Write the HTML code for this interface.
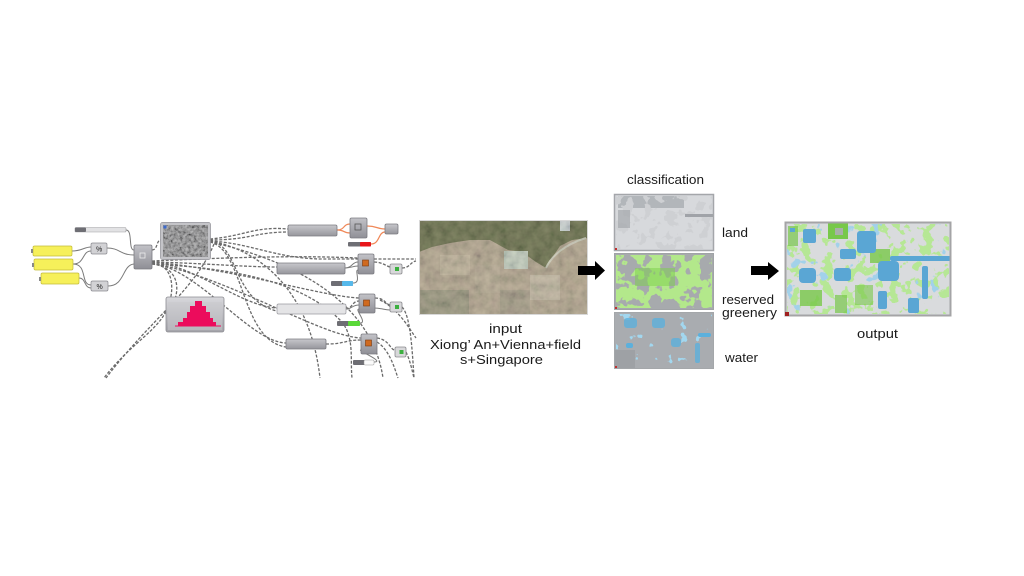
<!DOCTYPE html>
<html><head><meta charset="utf-8"><style>
html,body{margin:0;padding:0;background:#fff;}
svg{display:block}
text{font-family:"Liberation Sans","Noto Sans CJK SC",sans-serif;fill:#1a1a1a;}
.w{fill:none;stroke:#6a6a6a;stroke-width:1.3;stroke-dasharray:3 1.6}
.s{fill:none;stroke:#7a7a7a;stroke-width:1}
.o{fill:none;stroke:#f08858;stroke-width:1.2}
.nd{fill:url(#nodeG);stroke:#7c7c82;stroke-width:0.8}
.bar{fill:url(#barG);stroke:#7c7c82;stroke-width:0.8}
.sm{fill:#d8d8da;stroke:#8a8a8e;stroke-width:0.8}
</style></head><body>
<svg width="1024" height="576" viewBox="0 0 1024 576" xmlns="http://www.w3.org/2000/svg">
<defs>
 <linearGradient id="nodeG" x1="0" y1="0" x2="0" y2="1"><stop offset="0" stop-color="#c2c2c7"/><stop offset="1" stop-color="#8f8f96"/></linearGradient>
 <linearGradient id="barG" x1="0" y1="0" x2="0" y2="1"><stop offset="0" stop-color="#c8c8cc"/><stop offset="1" stop-color="#96969c"/></linearGradient>
 <linearGradient id="histG" x1="0" y1="0" x2="0" y2="1"><stop offset="0" stop-color="#d8d8dc"/><stop offset="1" stop-color="#a4a4aa"/></linearGradient>
 <filter id="tex" x="0" y="0" width="1" height="1"><feTurbulence type="fractalNoise" baseFrequency="0.35" numOctaves="3" seed="7"/><feColorMatrix type="matrix" values="1.6 0 0 0 -0.3  1.6 0 0 0 -0.3  1.6 0 0 0 -0.3  0 0 0 0 1"/></filter>
 <filter id="tex2" x="0" y="0" width="1" height="1"><feTurbulence type="fractalNoise" baseFrequency="0.12" numOctaves="3" seed="11"/><feColorMatrix type="matrix" values="1.2 0.3 0 0 -0.2  1.0 0.5 0 0 -0.2  0.8 0.2 0 0 -0.1  0 0 0 0 1"/></filter>
 <filter id="bGreen" x="0" y="0" width="1" height="1"><feTurbulence type="fractalNoise" baseFrequency="0.08" numOctaves="3" seed="3"/><feColorMatrix type="matrix" values="0 0 0 0 0.45  0 0 0 0 0.81  0 0 0 0 0.26  30 0 0 0 -14.1"/></filter>
 <filter id="bGray" x="0" y="0" width="1" height="1"><feTurbulence type="fractalNoise" baseFrequency="0.09" numOctaves="3" seed="9"/><feColorMatrix type="matrix" values="0 0 0 0 0.62  0 0 0 0 0.63  0 0 0 0 0.65  30 0 0 0 -16.2"/></filter>
 <filter id="bOutG" x="0" y="0" width="1" height="1"><feTurbulence type="fractalNoise" baseFrequency="0.09" numOctaves="3" seed="21"/><feColorMatrix type="matrix" values="0 0 0 0 0.47  0 0 0 0 0.80  0 0 0 0 0.30  30 0 0 0 -16.8"/></filter>
 <filter id="bOutB" x="0" y="0" width="1" height="1"><feTurbulence type="fractalNoise" baseFrequency="0.07" numOctaves="3" seed="33"/><feColorMatrix type="matrix" values="0 0 0 0 0.36  0 0 0 0 0.64  0 0 0 0 0.82  30 0 0 0 -21"/></filter>
 <filter id="bBlue" x="0" y="0" width="1" height="1"><feTurbulence type="fractalNoise" baseFrequency="0.09" numOctaves="3" seed="41"/><feColorMatrix type="matrix" values="0 0 0 0 0.36  0 0 0 0 0.68  0 0 0 0 0.86  30 0 0 0 -21.5"/></filter>
</defs>
<rect width="1024" height="576" fill="#fff"/>

<!-- ========== GRASSHOPPER GRAPH ========== -->
<path class="w" d="M210,239 C245,236 255,226 288,229"/>
<path class="w" d="M210,240 C250,240 255,232 288,232"/>
<path class="w" d="M210,241 C250,243 275,258 320,259 L416,259"/>
<path class="w" d="M152,261 C220,258 290,255 358,258"/>
<path class="w" d="M152,262 C200,263 245,267 277,267"/>
<path class="w" d="M152,262 C195,265 240,306 277,308"/>
<path class="w" d="M152,263 C200,270 250,342 286,343"/>
<path class="w" d="M152,262 C240,270 320,296 359,298"/>
<path class="w" d="M152,263 C230,278 320,336 361,338"/>
<path class="w" d="M210,241 C240,245 232,300 277,311"/>
<path class="w" d="M210,242 C245,250 240,340 286,347"/>
<path class="w" d="M210,241 C260,250 310,290 320,378"/>
<path class="w" d="M210,242 C270,255 370,290 383,378"/>
<path class="w" d="M152,264 C230,268 300,280 340,320 C355,335 350,360 352,378"/>
<path class="w" d="M152,263 C178,265 175,300 162,318 C150,335 125,350 104,378"/>
<path class="w" d="M214,244 C195,290 150,320 106,378"/>
<path class="w" d="M152,264 C185,268 180,300 166,314"/>
<path class="w" d="M152,250 C158,250 156,240 161,240"/>
<path class="w" d="M402,268 C410,268 410,262 416,261"/>
<path class="w" d="M375,298 C385,298 385,304 390,305"/>
<path class="w" d="M374,262 C382,262 386,266 390,267"/>
<path class="w" d="M377,338 C390,340 390,350 395,350"/>
<path class="w" d="M380,300 C400,310 410,330 416,338"/>
<path class="w" d="M402,307 C410,315 412,345 414,378"/>
<path class="w" d="M406,352 C410,360 412,370 414,378"/>
<path class="w" d="M377,342 C390,350 395,370 398,378"/>
<path class="w" d="M346,309 C352,309 352,301 359,301"/>
<path class="w" d="M326,344 C345,344 345,340 361,340"/>

<path class="s" d="M126,230 C133,230 128,250 134,250"/>
<path class="s" d="M107,248 C120,248 120,255 134,255"/>
<path class="s" d="M108,286 C125,286 122,265 134,264"/>
<path class="s" d="M72,251 C82,251 84,247 91,247"/>
<path class="s" d="M73,264 C85,264 82,251 91,251"/>
<path class="s" d="M73,264 C88,264 80,285 91,285"/>
<path class="s" d="M79,278 C86,278 84,288 91,288"/>
<path class="s" d="M345,268 C352,268 352,262 358,262"/>
<path class="s" d="M345,268 C352,268 352,266 358,266"/>
<path class="s" d="M353,283 C362,283 354,270 358,270"/>
<path class="s" d="M346,309 C352,309 352,305 359,305"/>
<path class="s" d="M360,323 C368,323 354,309 359,309"/>
<path class="s" d="M374,362 C386,362 356,350 361,350"/>
<path class="s" d="M374,308 C382,308 384,310 390,310"/>
<path class="o" d="M337,230 C345,230 343,224 350,224"/>
<path class="o" d="M337,230 C345,230 343,233 350,233"/>
<path class="o" d="M367,226 C377,226 377,229 385,229"/>
<path class="o" d="M371,244 C380,244 378,232 385,232"/>

<rect x="75" y="227.5" width="51" height="4.5" rx="1" fill="#e2e2e4" stroke="#a0a0a4" stroke-width="0.6"/>
<rect x="75" y="227.5" width="11" height="4.5" rx="1" fill="#6e6e74"/>
<rect x="33" y="246" width="39" height="10" rx="1.5" fill="#f6f05a" stroke="#c4bc3a" stroke-width="0.7"/>
<rect x="34" y="259" width="39" height="11" rx="1.5" fill="#f6f05a" stroke="#c4bc3a" stroke-width="0.7"/>
<rect x="41" y="273" width="38" height="11" rx="1.5" fill="#f6f05a" stroke="#c4bc3a" stroke-width="0.7"/>
<rect x="31" y="249" width="2" height="4" fill="#888"/>
<rect x="32" y="263" width="2" height="4" fill="#888"/>
<rect x="39" y="277" width="2" height="4" fill="#888"/>
<rect x="91" y="243" width="16" height="11" rx="1.5" fill="#d2d2d5" stroke="#8a8a90" stroke-width="0.7"/>
<text x="96" y="251.5" font-size="7" fill="#333">%</text>
<rect x="91" y="281" width="17" height="10" rx="1.5" fill="#d2d2d5" stroke="#8a8a90" stroke-width="0.7"/>
<text x="96.5" y="289" font-size="7" fill="#333">%</text>
<rect x="134" y="245" width="18" height="24" rx="1.5" class="nd"/>
<rect x="140" y="253" width="5" height="5" fill="none" stroke="#eee" stroke-width="0.8"/>
<rect x="160.5" y="222.5" width="50" height="37" rx="2" fill="#c4c4c8" stroke="#909096" stroke-width="0.7"/>
<rect x="163" y="225" width="45" height="32" fill="#727274"/>
<rect x="163" y="225" width="45" height="32" filter="url(#tex)" opacity="0.5"/>
<rect x="163.5" y="225.5" width="3" height="3" fill="#3a6ad0"/>
<rect x="166" y="297" width="58" height="35" rx="2" fill="url(#histG)" stroke="#8c8c92" stroke-width="0.8"/>
<rect x="168" y="302" width="54" height="28" fill="#c8c8cc" opacity="0.5"/>
<path d="M175,325.5 L178,325.5 L178,322 L183,322 L183,318 L187,318 L187,312 L190,312 L190,306 L195,306 L195,301 L202,301 L202,306 L206,306 L206,312 L210,312 L210,318 L213,318 L213,322 L216,322 L216,325.5 L221,325.5 L221,326.5 L175,326.5 Z" fill="#ec0c5c"/>

<rect x="288" y="225" width="49" height="11" rx="1.5" class="bar"/>
<rect x="350" y="218" width="17" height="20" rx="1.5" class="nd"/>
<rect x="355" y="224" width="6" height="6" fill="none" stroke="#555" stroke-width="0.8"/>
<rect x="385" y="224" width="13" height="10" rx="1.5" class="bar"/>
<rect x="348" y="242" width="23" height="4.5" rx="1" fill="#6e6e74"/>
<rect x="360" y="242" width="11" height="4.5" rx="1" fill="#e8161a"/>
<rect x="277" y="263" width="68" height="11" rx="1.5" class="bar"/>
<rect x="358" y="254" width="16" height="20" rx="1.5" class="nd"/>
<rect x="362.5" y="260" width="6" height="6" fill="#cf6a20" stroke="#7a3a10" stroke-width="0.6"/>
<rect x="390" y="264" width="12" height="10" rx="1.5" class="sm"/>
<rect x="395" y="267" width="4" height="4" fill="#3cb040"/>
<rect x="331" y="281" width="22" height="5" rx="1" fill="#6e6e74"/>
<rect x="342" y="281" width="11" height="5" rx="1" fill="#56b8ea"/>
<rect x="277" y="304" width="69" height="10" rx="1.5" fill="#e4e4e6" stroke="#9a9aa0" stroke-width="0.7"/>
<rect x="359" y="294" width="16" height="19" rx="1.5" class="nd"/>
<rect x="363.5" y="300" width="6" height="6" fill="#cf6a20" stroke="#7a3a10" stroke-width="0.6"/>
<rect x="390" y="302" width="12" height="10" rx="1.5" class="sm"/>
<rect x="395" y="305" width="4" height="4" fill="#3cb040"/>
<rect x="337" y="321" width="23" height="5" rx="1" fill="#6e6e74"/>
<rect x="348" y="321" width="12" height="5" rx="1" fill="#5ad838"/>
<rect x="286" y="339" width="40" height="10" rx="1.5" class="bar"/>
<rect x="361" y="334" width="16" height="20" rx="1.5" class="nd"/>
<rect x="365.5" y="340" width="6" height="6" fill="#cf6a20" stroke="#7a3a10" stroke-width="0.6"/>
<rect x="395" y="347" width="11" height="10" rx="1.5" class="sm"/>
<rect x="399.5" y="350" width="4" height="4" fill="#3cb040"/>
<rect x="353" y="360" width="21" height="5" rx="1" fill="#6e6e74"/>
<rect x="364" y="360" width="10" height="5" rx="1" fill="#fafafa" stroke="#999" stroke-width="0.5"/>

<!-- ========== SATELLITE ========== -->
<rect x="419" y="220" width="169" height="95" fill="#a89a88"/>
<path d="M419,220 L588,220 L588,238 L572,240 L560,246 L552,258 L546,268 L536,262 L522,252 L508,250 L490,240 L470,240 L450,243 L432,247 L419,252 Z" fill="#5c6242"/>
<path d="M546,268 C552,255 566,244 586,238" fill="none" stroke="#c0c0b4" stroke-width="2"/>
<rect x="504" y="251" width="24" height="18" fill="#b9c4bb"/>
<rect x="560" y="221" width="10" height="10" fill="#c6cdd4"/>
<rect x="419" y="290" width="50" height="25" fill="#8f8b78"/>
<rect x="440" y="255" width="30" height="20" fill="#b4a794"/>
<rect x="475" y="265" width="25" height="28" fill="#ab9e8c"/>
<rect x="530" y="275" width="30" height="25" fill="#b6ab9b"/>
<rect x="560" y="260" width="28" height="30" fill="#ab9c88"/>
<rect x="500" y="290" width="30" height="25" fill="#9c9282"/>
<rect x="419" y="220" width="169" height="95" filter="url(#tex2)" opacity="0.22"/>
<rect x="419.5" y="220.5" width="168" height="94" fill="none" stroke="#d8d8d8" stroke-width="1"/>

<path d="M578,266 L595,266 L595,261 L605,270.5 L595,280 L595,275 L578,275 Z" fill="#000"/>

<!-- ========== CLASSIFICATION ========== -->
<rect x="614" y="194" width="100" height="57" fill="#d7d9dc"/>
<rect x="618" y="196" width="66" height="12" fill="#a3a6ab" opacity="0.7"/>
<rect x="616" y="196" width="96" height="53" filter="url(#bGray)"/>
<rect x="685" y="214" width="29" height="3" fill="#a0a3a8"/>
<rect x="618" y="210" width="12" height="18" fill="#a5a8ad" opacity="0.7"/>
<rect x="614.5" y="194.5" width="99" height="56" fill="none" stroke="#a4a6aa" stroke-width="1.5"/>
<rect x="615" y="248" width="2" height="2" fill="#c03030"/>

<rect x="614" y="253" width="100" height="57" fill="#a7aaad"/>
<rect x="616" y="255" width="96" height="53" filter="url(#bGreen)"/>
<rect x="635" y="268" width="40" height="18" fill="#7cd04a" opacity="0.5"/>
<rect x="614.5" y="253.5" width="99" height="56" fill="none" stroke="#a0a3a6" stroke-width="1"/>
<rect x="615" y="307" width="2" height="2" fill="#c03030"/>

<rect x="614" y="312" width="100" height="57" fill="#a9acb0"/>
<rect x="615" y="350" width="20" height="18" fill="#9ea1a5"/>
<rect x="616" y="314" width="96" height="53" filter="url(#bBlue)"/>
<rect x="624" y="318" width="13" height="10" rx="3" fill="#5cb0dc" opacity="0.8"/>
<rect x="652" y="318" width="13" height="10" rx="3" fill="#5cb0dc" opacity="0.8"/>
<rect x="698" y="333" width="13" height="4" rx="2" fill="#5cb0dc"/>
<rect x="626" y="343" width="7" height="5" rx="2" fill="#5cb0dc"/>
<rect x="671" y="338" width="10" height="9" rx="3" fill="#5cb0dc" opacity="0.8"/>
<rect x="695" y="343" width="5" height="20" rx="2" fill="#5cb0dc" opacity="0.8"/>
<rect x="614.5" y="312.5" width="99" height="56" fill="none" stroke="#a4a7aa" stroke-width="1"/>
<rect x="615" y="366" width="2" height="2" fill="#c03030"/>

<path d="M751,266 L768,266 L768,262 L779,271 L768,280 L768,275 L751,275 Z" fill="#000"/>

<!-- ========== OUTPUT ========== -->
<rect x="785" y="222" width="166" height="94" fill="#d9dbdd"/>
<rect x="787" y="224" width="162" height="90" filter="url(#bOutG)"/>
<rect x="787" y="224" width="162" height="90" filter="url(#bOutB)"/>
<g fill="#78c84a">
 <rect x="828" y="223" width="20" height="16"/>
 <rect x="870" y="249" width="20" height="14" opacity="0.8"/>
 <rect x="800" y="290" width="22" height="16" opacity="0.8"/>
 <rect x="788" y="226" width="10" height="20" opacity="0.7"/>
 <rect x="855" y="285" width="18" height="20" opacity="0.6"/>
 <rect x="835" y="295" width="12" height="18" opacity="0.7"/>
</g>
<rect x="835" y="228" width="8" height="7" fill="#a8b0a8"/>
<g fill="#5aa6d4">
 <rect x="803" y="229" width="13" height="14" rx="2"/>
 <rect x="857" y="231" width="19" height="22" rx="3"/>
 <rect x="840" y="249" width="16" height="10" rx="2"/>
 <rect x="890" y="256" width="61" height="5" rx="2"/>
 <rect x="799" y="268" width="17" height="15" rx="4"/>
 <rect x="834" y="268" width="17" height="13" rx="3"/>
 <rect x="878" y="261" width="21" height="20" rx="4"/>
 <rect x="922" y="266" width="6" height="33" rx="2"/>
 <rect x="908" y="298" width="11" height="15" rx="2"/>
 <rect x="878" y="291" width="9" height="18" rx="2"/>
 <rect x="790" y="228" width="5" height="4"/>
</g>
<rect x="785.5" y="222.5" width="165" height="93" fill="none" stroke="#a4a4a6" stroke-width="2"/>
<rect x="785" y="312" width="4" height="4" fill="#a02020"/>

<!-- ========== LABELS ========== -->
<text x="627" y="184" font-size="13" textLength="77" lengthAdjust="spacingAndGlyphs">classification</text>
<text x="722" y="237" font-size="13" textLength="26" lengthAdjust="spacingAndGlyphs">land</text>
<text x="722" y="304" font-size="13" textLength="52" lengthAdjust="spacingAndGlyphs">reserved</text>
<text x="722" y="317" font-size="13" textLength="55" lengthAdjust="spacingAndGlyphs">greenery</text>
<text x="725" y="362" font-size="13" textLength="33" lengthAdjust="spacingAndGlyphs">water</text>
<text x="489" y="333" font-size="13" textLength="33" lengthAdjust="spacingAndGlyphs">input</text>
<text x="430" y="349" font-size="13" textLength="151" lengthAdjust="spacingAndGlyphs">Xiong’  An+Vienna+field</text>
<text x="460" y="364" font-size="13" textLength="83" lengthAdjust="spacingAndGlyphs">s+Singapore</text>
<text x="857" y="338" font-size="13" textLength="41" lengthAdjust="spacingAndGlyphs">output</text>
</svg>
</body></html>
